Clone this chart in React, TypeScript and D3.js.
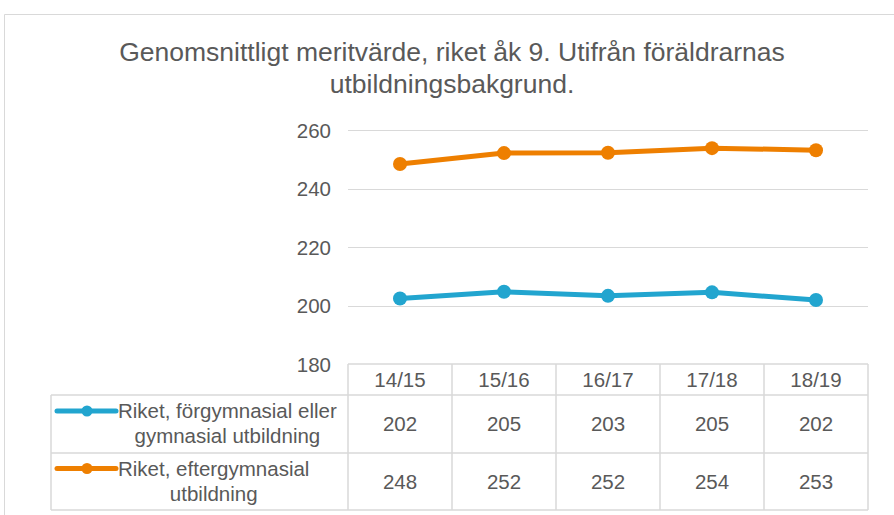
import React, { useEffect, useRef } from "react";
import * as d3 from "d3";

const categories = ["14/15", "15/16", "16/17", "17/18", "18/19"];
const seriesNames = [
  ["Riket, förgymnasial eller", "gymnasial utbildning"],
  ["Riket, eftergymnasial", "utbildning"],
];
const forgymnasial = [202.4, 204.7, 203.3, 204.5, 201.9];
const eftergymnasial = [248.4, 252.1, 252.2, 253.8, 253.1];
const yTicks = [180, 200, 220, 240, 260];
const colors = ["#22a5cf", "#ee7f00"];
const titleLines = [
  "Genomsnittligt meritvärde, riket åk 9. Utifrån föräldrarnas",
  "utbildningsbakgrund.",
];

const App = () => {
  const svgRef = useRef(null);

  useEffect(() => {
    const svg = d3.select(svgRef.current);
    svg.selectAll("*").remove();

    const font = "'Liberation Sans', Arial, sans-serif";
    const textColor = "#595959";
    const gridColor = "#d9d9d9";
    const fs = 20.5;

    const plot = { left: 348, right: 868, top: 130, bottom: 364 };
    const rowTops = [364, 395, 453, 510];
    const labelLeft = 51;

    const x = d3
      .scaleBand()
      .domain(categories)
      .range([plot.left, plot.right])
      .padding(0);
    const y = d3.scaleLinear().domain([180, 260]).range([plot.bottom, plot.top]);

    // outer chart border
    svg
      .append("path")
      .attr("d", "M4.5,515 L4.5,14.5 L894,14.5")
      .attr("fill", "none")
      .attr("stroke", gridColor);

    // title
    svg
      .append("g")
      .selectAll("text")
      .data(titleLines)
      .join("text")
      .attr("x", 452)
      .attr("y", (d, i) => 61 + i * 32)
      .attr("text-anchor", "middle")
      .attr("font-family", font)
      .attr("font-size", 26.5)
      .attr("fill", textColor)
      .text((d) => d);

    // gridlines
    svg
      .append("g")
      .selectAll("line")
      .data(yTicks.slice(1))
      .join("line")
      .attr("x1", plot.left)
      .attr("x2", plot.right)
      .attr("y1", (d) => Math.round(y(d)) + 0.5)
      .attr("y2", (d) => Math.round(y(d)) + 0.5)
      .attr("stroke", gridColor);

    // y tick labels
    svg
      .append("g")
      .selectAll("text")
      .data(yTicks)
      .join("text")
      .attr("x", 331)
      .attr("y", (d) => y(d) + 7.5)
      .attr("text-anchor", "end")
      .attr("font-family", font)
      .attr("font-size", fs)
      .attr("fill", textColor)
      .text((d) => d);

    // lines
    const series = [forgymnasial, eftergymnasial];
    const line = d3
      .line<number>()
      .x((d, i) => x(categories[i])! + x.bandwidth() / 2)
      .y((d) => y(d));

    series.forEach((vals, s) => {
      svg
        .append("path")
        .datum(vals)
        .attr("d", line)
        .attr("fill", "none")
        .attr("stroke", colors[s])
        .attr("stroke-width", 5)
        .attr("stroke-linejoin", "round");
      svg
        .append("g")
        .selectAll("circle")
        .data(vals)
        .join("circle")
        .attr("cx", (d, i) => x(categories[i])! + x.bandwidth() / 2)
        .attr("cy", (d) => y(d))
        .attr("r", 7)
        .attr("fill", colors[s]);
    });

    // data table
    const table = svg.append("g");
    const border = (x1, y1, x2, y2) =>
      table
        .append("line")
        .attr("x1", x1)
        .attr("y1", y1)
        .attr("x2", x2)
        .attr("y2", y2)
        .attr("stroke", gridColor)
        .attr("stroke-width", 1.5);

    // horizontal borders
    border(plot.left, rowTops[0], plot.right, rowTops[0]);
    rowTops.slice(1).forEach((t) => border(labelLeft, t, plot.right, t));
    // vertical borders
    border(labelLeft, rowTops[1], labelLeft, rowTops[3]);
    categories.forEach((c) => border(x(c)!, rowTops[0], x(c)!, rowTops[3]));
    border(plot.right, rowTops[0], plot.right, rowTops[3]);

    // header labels
    table
      .selectAll("text.hdr")
      .data(categories)
      .join("text")
      .attr("class", "hdr")
      .attr("x", (d) => x(d)! + x.bandwidth() / 2)
      .attr("y", (rowTops[0] + rowTops[1]) / 2 + 7)
      .attr("text-anchor", "middle")
      .attr("font-family", font)
      .attr("font-size", fs)
      .attr("fill", textColor)
      .text((d) => d);

    const fmt = d3.format(".0f");
    series.forEach((vals, s) => {
      const mid = (rowTops[s + 1] + rowTops[s + 2]) / 2;
      table
        .append("g")
        .selectAll("text")
        .data(vals)
        .join("text")
        .attr("x", (d, i) => x(categories[i])! + x.bandwidth() / 2)
        .attr("y", mid + 7)
        .attr("text-anchor", "middle")
        .attr("font-family", font)
        .attr("font-size", fs)
        .attr("fill", textColor)
        .text((d) => fmt(d));

      // legend key
      const keyY = mid - 13;
      table
        .append("line")
        .attr("x1", 57)
        .attr("x2", 116)
        .attr("y1", keyY)
        .attr("y2", keyY)
        .attr("stroke", colors[s])
        .attr("stroke-width", 5)
        .attr("stroke-linecap", "round");
      table
        .append("circle")
        .attr("cx", 87)
        .attr("cy", keyY)
        .attr("r", 5.5)
        .attr("fill", colors[s]);

      const first = table
        .append("text")
        .attr("x", 118)
        .attr("y", keyY + 7)
        .attr("font-family", font)
        .attr("font-size", fs)
        .attr("fill", textColor)
        .text(seriesNames[s][0]);
      const w = (first.node() as SVGTextElement).getComputedTextLength();
      table
        .append("text")
        .attr("x", 118 + w / 2)
        .attr("y", keyY + 32)
        .attr("text-anchor", "middle")
        .attr("font-family", font)
        .attr("font-size", fs)
        .attr("fill", textColor)
        .text(seriesNames[s][1]);
    });
  }, []);

  return (
    <svg
      ref={svgRef}
      width={894}
      height={515}
      style={{ position: "absolute", left: 0, top: 0, background: "#fff" }}
    ></svg>
  );
};

export default App;
